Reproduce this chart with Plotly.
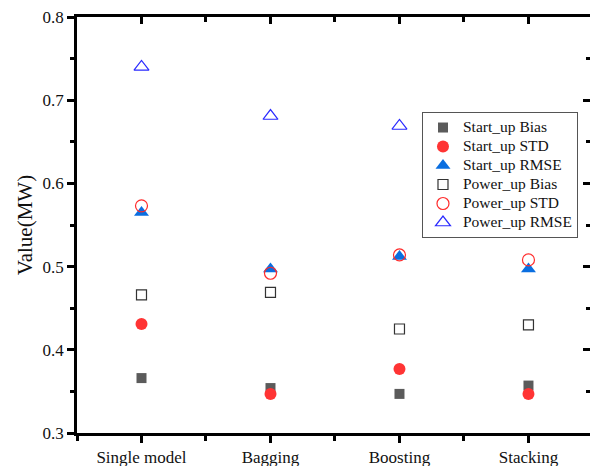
import plotly.graph_objects as go

categories = ["Single model", "Bagging", "Boosting", "Stacking"]
start_bias = [0.366, 0.354, 0.347, 0.357]
start_std = [0.431, 0.347, 0.377, 0.347]
start_rmse = [0.565, 0.497, 0.512, 0.497]
power_bias = [0.466, 0.469, 0.425, 0.430]
power_std = [0.573, 0.492, 0.514, 0.508]
power_rmse = [0.740, 0.681, 0.669, 0.665]
y_ticks = [0.3, 0.4, 0.5, 0.6, 0.7, 0.8]

xpos = list(range(len(categories)))
FONT = "Liberation Serif"
AX = "black"

series = [
    ("Start_up Bias", start_bias, dict(symbol="square", color="#5b5b5b", size=10)),
    ("Start_up STD", start_std, dict(symbol="circle", color="#ff3434", size=12)),
    ("Start_up RMSE", start_rmse, dict(symbol="triangle-up", color="#0a6ee0", size=13)),
    ("Power_up Bias", power_bias, dict(symbol="square-open", color="#333333", size=10, line=dict(width=1.2))),
    ("Power_up STD", power_std, dict(symbol="circle-open", color="#ff2a2a", size=12, line=dict(width=1.2))),
    ("Power_up RMSE", power_rmse, dict(symbol="triangle-up-open", color="#2a2aff", size=13, line=dict(width=1.2))),
]

fig = go.Figure()
for name, vals, mk in series:
    fig.add_trace(go.Scatter(
        x=xpos, y=vals, mode="markers",
        name=f"<span style='font-size:15.5px'>{name}</span>", marker=mk))

xr = [-0.5, 3.477]
yr = [0.3, 0.8]
minor_x = [i + 0.5 for i in range(-1, len(categories))]

fig.update_layout(
    width=590, height=466,
    margin=dict(l=77, r=0, t=17, b=33, autoexpand=False),
    plot_bgcolor="white", paper_bgcolor="white",
    font=dict(family=FONT, size=17, color="#111111"),
    showlegend=True,
    legend=dict(
        x=0.6725, y=0.7716, xanchor="left", yanchor="top",
        bgcolor="white", bordercolor="#555555", borderwidth=1,
        font=dict(family=FONT, size=12.2, color="#111111"),
        tracegroupgap=0, itemwidth=30,
    ),
    xaxis=dict(
        range=xr, tickmode="array", tickvals=xpos, ticktext=categories,
        ticks="outside", ticklen=7, tickwidth=2.5, tickcolor=AX,
        showline=True, mirror=True, linecolor=AX, linewidth=2.5, showgrid=False, zeroline=False,
        minor=dict(tickvals=minor_x, ticks="outside", ticklen=5, tickwidth=2.5, tickcolor=AX),
        tickfont=dict(family=FONT, size=17), automargin=False,
    ),
    yaxis=dict(
        range=yr, tickmode="array", tickvals=y_ticks, ticktext=[f"{v:.1f}" for v in y_ticks],
        ticks="outside", ticklen=7, tickwidth=2.5, tickcolor=AX,
        showline=True, mirror=True, linecolor=AX, linewidth=2.5, showgrid=False, zeroline=False,
        minor=dict(dtick=0.05, tick0=0.3, ticks="outside", ticklen=4, tickwidth=2.5, tickcolor=AX),
        title=dict(text="Value(MW)", font=dict(family=FONT, size=21), standoff=5),
        tickfont=dict(family=FONT, size=17), automargin=False,
    ),
    xaxis2=dict(
        overlaying="x", side="top", anchor="y", range=xr,
        tickmode="array", tickvals=xpos, showticklabels=False,
        ticks="inside", ticklen=7, tickwidth=2.5, tickcolor=AX,
        showline=False, showgrid=False, zeroline=False,
        minor=dict(tickvals=minor_x, ticks="inside", ticklen=5, tickwidth=2.5, tickcolor=AX),
    ),
    yaxis2=dict(
        overlaying="y", side="right", anchor="x", range=yr,
        tickmode="array", tickvals=y_ticks, showticklabels=False,
        ticks="inside", ticklen=7, tickwidth=2.5, tickcolor=AX,
        showline=False, showgrid=False, zeroline=False,
        minor=dict(dtick=0.05, tick0=0.3, ticks="inside", ticklen=4, tickwidth=2.5, tickcolor=AX),
    ),
)
# invisible trace so the mirror (top/right) tick axes are drawn
fig.add_trace(go.Scatter(x=[xr[0]], y=[yr[0]], xaxis="x2", yaxis="y2", mode="markers",
                         marker=dict(opacity=0), showlegend=False, hoverinfo="skip"))

fig.write_html("out.html", config={"displayModeBar": False},
               post_script="document.body.style.margin='0px';")
